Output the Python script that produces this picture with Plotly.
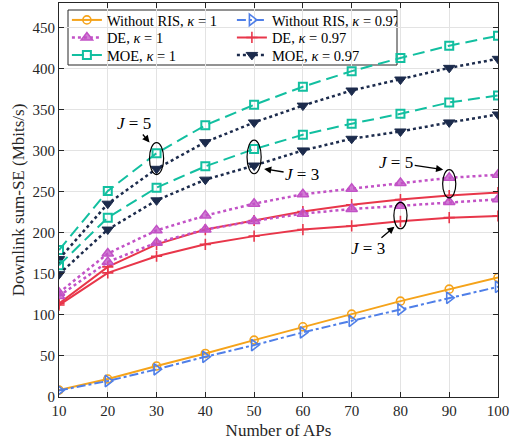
import plotly.graph_objects as go

# Number of access points
aps = [10, 20, 30, 40, 50, 60, 70, 80, 90, 100]

# Downlink sum-SE (Mbits/s)
without_ris_k1 = [8.5, 21.9, 37.7, 53, 69.3, 85.5, 101, 116.8, 131.4, 145.5]
without_ris_k097 = [8, 19.5, 33.7, 49, 63.2, 78.7, 92.8, 106.6, 120.8, 134.2]

de_k1_j5 = [127, 174.8, 203, 221, 235.5, 247, 253.8, 260.7, 267, 270.8]
de_k1_j3 = [123, 164.6, 188, 204, 214.5, 223.4, 229, 233, 237.5, 240.8]
de_k097_j5 = [114, 158.5, 186, 204, 215, 226, 234.3, 240.5, 245.5, 249]
de_k097_j3 = [112, 151.2, 171.5, 186, 196, 204, 208.4, 214, 218.5, 220.5]

moe_k1_j5 = [179, 251, 297, 331, 356, 378, 397, 413, 428, 440]
moe_k1_j3 = [160.5, 218.5, 255, 281, 302, 319.5, 333, 345, 358.8, 367.3]
moe_k097_j5 = [168, 235.5, 278, 310.5, 334.5, 355, 373.4, 386.8, 401, 412]
moe_k097_j3 = [149.6, 204, 239.6, 264.8, 282, 300.4, 314.6, 323.5, 334.5, 344.2]

FONT = "Liberation Serif"
ORANGE = "#F5A31A"
BLUE = "#4F7FE8"
MAGENTA = "#C252C6"
RED = "#E8364A"
TEAL = "#12BFA0"
NAVY = "#1C2B4C"

styles = {
    "wr1": dict(line=dict(color=ORANGE, width=2),
                marker=dict(symbol="circle-open", size=8, color=ORANGE, line=dict(width=1.6))),
    "wr097": dict(line=dict(color=BLUE, width=2, dash="dashdot"),
                  marker=dict(symbol="triangle-right-open", size=10, color=BLUE, line=dict(width=1.6))),
    "de1": dict(line=dict(color=MAGENTA, width=2.5, dash="dot"),
                marker=dict(symbol="triangle-up", size=10, color="rgba(194,82,198,0.75)",
                            line=dict(color=MAGENTA, width=1.5))),
    "de097": dict(line=dict(color=RED, width=2),
                  marker=dict(symbol="cross-thin", size=8, color=RED, line=dict(color=RED, width=1.6))),
    "moe1": dict(line=dict(color=TEAL, width=2, dash="12px,6px"),
                 marker=dict(symbol="square-open", size=8, color=TEAL, line=dict(width=2))),
    "moe097": dict(line=dict(color=NAVY, width=2.5, dash="dot"),
                   marker=dict(symbol="triangle-down", size=10, color=NAVY, line=dict(color=NAVY, width=1))),
}

fig = go.Figure()

# one legend per row so the two-column key stays compact
series = [
    ("Without RIS, <i>κ</i> = 1", without_ris_k1, "wr1", "legend"),
    ("Without RIS, <i>κ</i> = 0.97", without_ris_k097, "wr097", "legend"),
    ("DE, <i>κ</i> = 1", de_k1_j5, "de1", "legend2"),
    ("DE, <i>κ</i> = 0.97", de_k097_j5, "de097", "legend2"),
    ("MOE, <i>κ</i> = 1", moe_k1_j5, "moe1", "legend3"),
    ("MOE, <i>κ</i> = 0.97", moe_k097_j5, "moe097", "legend3"),
    ("DE, <i>κ</i> = 1", de_k1_j3, "de1", None),
    ("DE, <i>κ</i> = 0.97", de_k097_j3, "de097", None),
    ("MOE, <i>κ</i> = 1", moe_k1_j3, "moe1", None),
    ("MOE, <i>κ</i> = 0.97", moe_k097_j3, "moe097", None),
]
for name, ys, key, leg in series:
    kw = dict(legend=leg, showlegend=True) if leg else dict(showlegend=False)
    fig.add_trace(go.Scatter(x=aps, y=ys, name=name, mode="lines+markers",
                             **kw, **styles[key]))


def ellipse(xv, lo, hi, half_w=1.45, pad_lo=6, pad_hi=9):
    return dict(type="circle", xref="x", yref="y",
                x0=xv - half_w, x1=xv + half_w,
                y0=lo - pad_lo, y1=hi + pad_hi,
                line=dict(color="black", width=1.2), layer="above")


i30, i50, i80, i90 = aps.index(30), aps.index(50), aps.index(80), aps.index(90)
e1 = ellipse(30, moe_k097_j5[i30], moe_k1_j5[i30], pad_lo=7, pad_hi=13)
e2 = ellipse(50, moe_k097_j3[i50], moe_k1_j3[i50], pad_lo=10, pad_hi=11)
e3 = ellipse(80, de_k097_j3[i80], de_k1_j3[i80], half_w=1.35, pad_lo=9, pad_hi=4)
e4 = ellipse(90, de_k097_j5[i90], de_k1_j5[i90], half_w=1.35, pad_lo=3, pad_hi=10)

# legend frame: white fill hides gridlines, traces stay on top
PLOT_T, PLOT_H, PLOT_L, PLOT_W = 3, 394, 59, 439


def py(px):
    return 1 - (px - PLOT_T) / PLOT_H


def pxx(px):
    return (px - PLOT_L) / PLOT_W


legend_box = dict(type="rect", xref="paper", yref="paper",
                  x0=pxx(68), x1=pxx(397), y0=py(65), y1=py(10),
                  fillcolor="white", line=dict(color="#262626", width=1), layer="between")

fig.update_layout(shapes=[legend_box, e1, e2, e3, e4])

arrow = dict(showarrow=True, arrowhead=2, arrowsize=1.1, arrowwidth=1.3,
             arrowcolor="black", font=dict(family=FONT, size=17, color="black"),
             xref="x", yref="y")
fig.add_annotation(text="<i>J</i> = 5", x=30, y=e1["y1"], xshift=-7, yshift=0,
                   ax=-16, ay=-19, **arrow)
fig.add_annotation(text="<i>J</i> = 3", x=50, y=(e2["y0"] + e2["y1"]) / 2, xshift=10, yshift=-12,
                   ax=38, ay=6, **arrow)
fig.add_annotation(text="<i>J</i> = 5", x=90, y=e4["y1"], xshift=-6, yshift=0,
                   ax=-47, ay=-7, **arrow)
fig.add_annotation(text="<i>J</i> = 3", x=80, y=e3["y0"], xshift=-6, yshift=2,
                   ax=-26, ay=22, **arrow)

axis_common = dict(
    showgrid=True, gridcolor="#E3E3E3", gridwidth=1,
    showline=True, linecolor="#262626", linewidth=1, mirror="ticks",
    ticks="inside", ticklen=5, tickcolor="#262626",
    tickfont=dict(family=FONT, size=15, color="#262626"),
    zeroline=False,
)

fig.update_xaxes(range=[10, 100], tickvals=aps, title=dict(text="Number of APs",
                 font=dict(family=FONT, size=17, color="#262626"), standoff=6),
                 **axis_common)
fig.update_yaxes(range=[0, 480], tickvals=[0, 50, 100, 150, 200, 250, 300, 350, 400, 450],
                 title=dict(text="Downlink sum-SE (Mbits/s)",
                            font=dict(family=FONT, size=17, color="#262626"), standoff=3),
                 **axis_common)

legend_common = dict(orientation="h", x=0.018, xanchor="left", yanchor="middle",
                     entrywidth=120, entrywidthmode="pixels",
                     bgcolor="rgba(0,0,0,0)", borderwidth=0,
                     font=dict(family=FONT, size=14.5, color="black"))

fig.update_layout(
    width=511, height=447,
    margin=dict(l=PLOT_L, r=13, t=PLOT_T, b=50),
    paper_bgcolor="white", plot_bgcolor="white",
    font=dict(family=FONT, color="#262626"),
    legend=dict(y=py(20), **legend_common),
    legend2=dict(y=py(37.5), **legend_common),
    legend3=dict(y=py(55), **legend_common),
)

fig.write_html("out.html")
